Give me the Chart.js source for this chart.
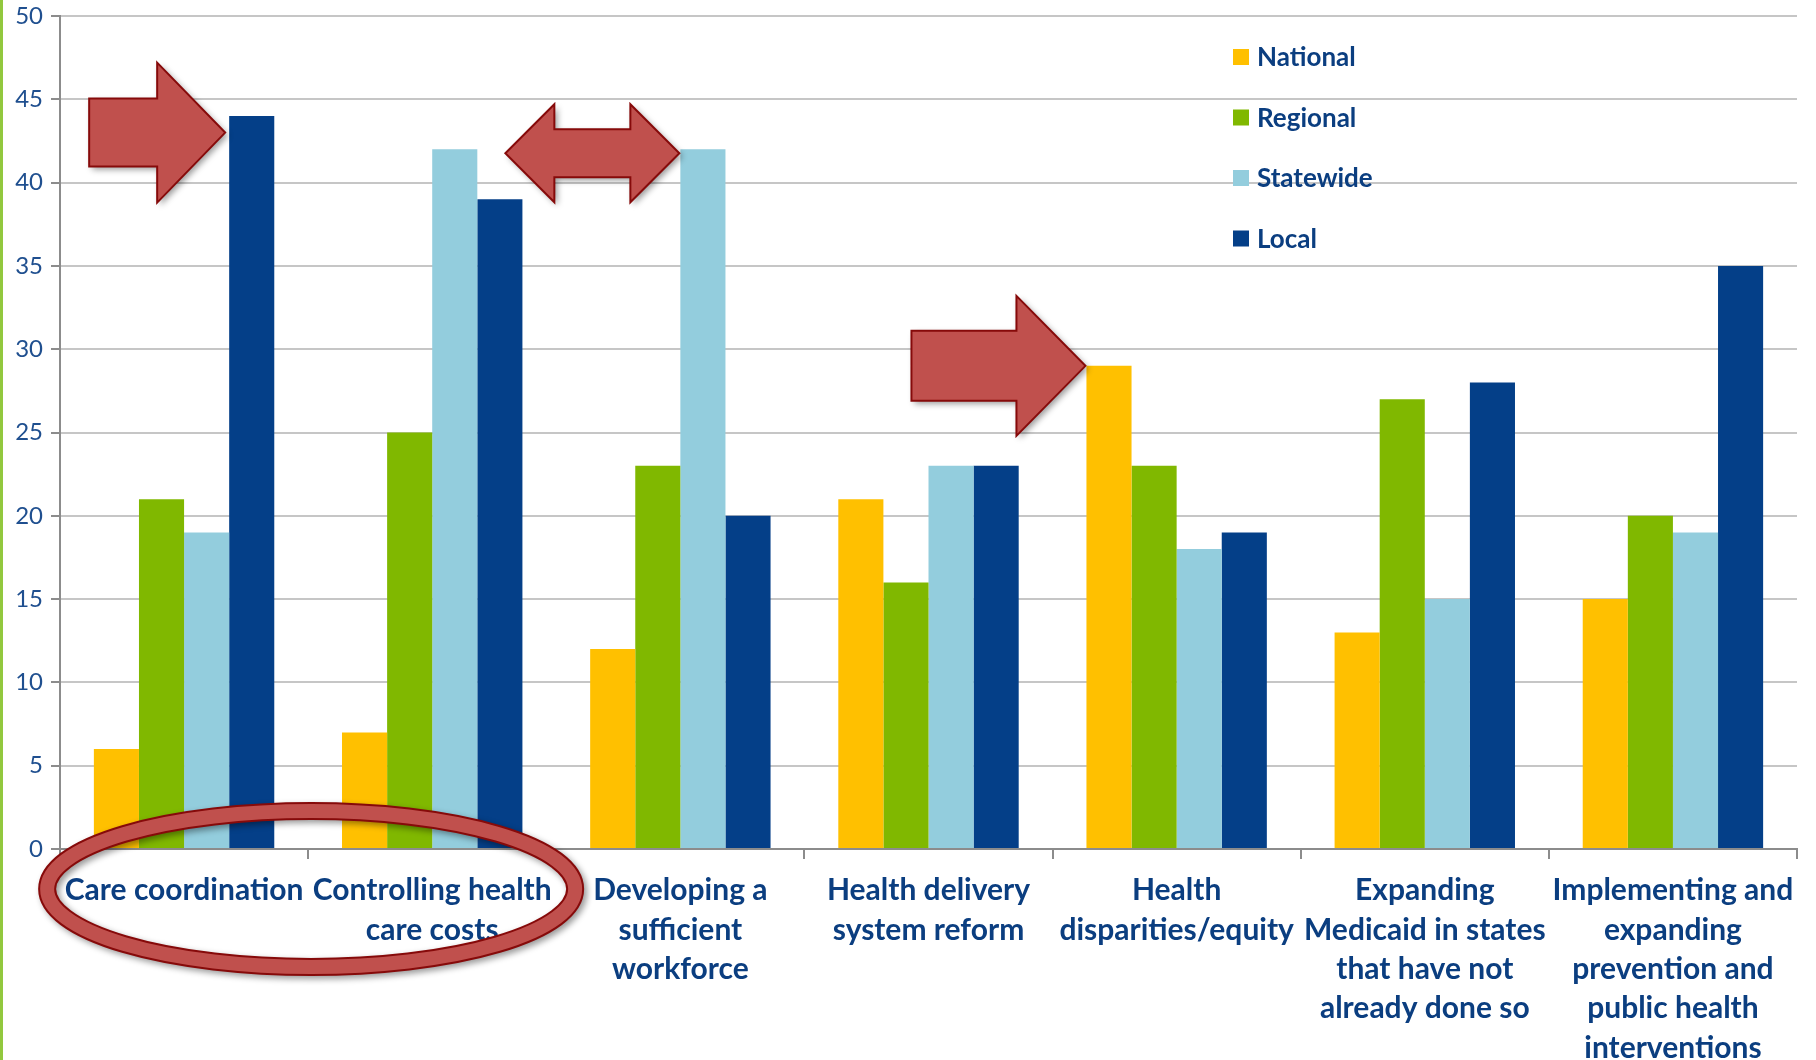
<!DOCTYPE html>
<html>
<head>
<meta charset="utf-8">
<script src="https://cdn.jsdelivr.net/npm/chart.js@4.4.1/dist/chart.umd.min.js"></script>
<style>
  html, body { margin: 0; padding: 0; background: #fff; }
  #wrap { position: relative; width: 1816px; height: 1060px; overflow: hidden; }
  #edge { position: absolute; left: 0; top: 0; width: 3px; height: 1060px; background: #92c83e; }
</style>
</head>
<body>
<div id="wrap">
  <canvas id="chart" width="1816" height="1060"></canvas>
  <div id="edge"></div>
</div>
<script>
// Survey: priority issues by organisation scope
const categories = [
  ["Care coordination"],
  ["Controlling health", "care costs"],
  ["Developing a", "sufficient", "workforce"],
  ["Health delivery", "system reform"],
  ["Health", "disparities/equity"],
  ["Expanding", "Medicaid in states", "that have not", "already done so"],
  ["Implementing and", "expanding", "prevention and", "public health", "interventions"]
];
const seriesNames = ["National", "Regional", "Statewide", "Local"];
const national  = [6, 7, 12, 21, 29, 13, 15];
const regional  = [21, 25, 23, 16, 23, 27, 20];
const statewide = [19, 42, 42, 23, 18, 15, 19];
const local     = [44, 39, 20, 23, 19, 28, 35];
const yTicks = [0, 5, 10, 15, 20, 25, 30, 35, 40, 45, 50];

const colors = ["#ffc000", "#80b800", "#93cddd", "#043f88"];
const textBlue = "#0b3e80";

Chart.defaults.font.family = "Lato, 'Open Sans', sans-serif";

// legend drawn inside the plot, top right
const insideLegend = {
  id: "insideLegend",
  afterDraw(chart) {
    const ctx = chart.ctx;
    ctx.save();
    ctx.font = "bold 26px Lato";
    ctx.textBaseline = "middle";
    chart.data.datasets.forEach((ds, i) => {
      const y = 57 + i * 60.5;
      ctx.fillStyle = ds.backgroundColor;
      ctx.fillRect(1233, y - 8, 16, 16);
      ctx.fillStyle = textBlue;
      ctx.fillText(ds.label, 1257, y + 1);
    });
    ctx.restore();
  }
};

function shape(ctx, pts) {
  ctx.save();
  ctx.shadowColor = "rgba(0,0,0,0.4)";
  ctx.shadowBlur = 6;
  ctx.shadowOffsetX = 3;
  ctx.shadowOffsetY = 3;
  ctx.beginPath();
  pts.forEach((p, i) => i ? ctx.lineTo(p[0], p[1]) : ctx.moveTo(p[0], p[1]));
  ctx.closePath();
  ctx.fillStyle = "#c0504d";
  ctx.fill();
  ctx.shadowColor = "transparent";
  ctx.lineWidth = 2;
  ctx.strokeStyle = "#860a0a";
  ctx.lineJoin = "miter";
  ctx.stroke();
  ctx.restore();
}

function rightArrow(ctx, tx, ty, len, head, hh, sh) {
  shape(ctx, [
    [tx - len, ty - sh], [tx - head, ty - sh], [tx - head, ty - hh], [tx, ty],
    [tx - head, ty + hh], [tx - head, ty + sh], [tx - len, ty + sh]
  ]);
}

function doubleArrow(ctx, rx, y, len, head, hh, sh) {
  const lx = rx - len;
  shape(ctx, [
    [lx, y], [lx + head, y - hh], [lx + head, y - sh], [rx - head, y - sh],
    [rx - head, y - hh], [rx, y], [rx - head, y + hh], [rx - head, y + sh],
    [lx + head, y + sh], [lx + head, y + hh]
  ]);
}

// callout arrows and the ring around the first two categories
const callouts = {
  id: "callouts",
  afterDraw(chart) {
    const ctx = chart.ctx;
    const x = chart.scales.x, y = chart.scales.y;
    const barLeft = (ds, i) => {
      const b = chart.getDatasetMeta(ds).data[i];
      return b.x - b.width / 2;
    };

    rightArrow(ctx, barLeft(3, 0) - 4, y.getPixelForValue(local[0] - 1), 136, 68, 70, 34);
    doubleArrow(ctx, barLeft(2, 2) - 1, y.getPixelForValue(statewide[2]) + 4, 174, 49, 49, 24);
    rightArrow(ctx, barLeft(0, 4) - 1, y.getPixelForValue(national[4]), 174, 69, 70, 35);

    const cx = x.getPixelForValue(0.5) + 3;
    const cy = chart.chartArea.bottom + 40;
    ctx.save();
    ctx.shadowColor = "rgba(0,0,0,0.4)";
    ctx.shadowBlur = 6;
    ctx.shadowOffsetX = 3;
    ctx.shadowOffsetY = 3;
    ctx.beginPath();
    ctx.ellipse(cx, cy, 264, 78, 0, 0, Math.PI * 2);
    ctx.lineWidth = 18;
    ctx.strokeStyle = "#860a0a";
    ctx.stroke();
    ctx.shadowColor = "transparent";
    ctx.lineWidth = 14;
    ctx.strokeStyle = "#c0504d";
    ctx.stroke();
    ctx.restore();
  }
};

new Chart(document.getElementById("chart"), {
  type: "bar",
  data: {
    labels: categories,
    datasets: [
      { label: seriesNames[0], data: national,  backgroundColor: colors[0] },
      { label: seriesNames[1], data: regional,  backgroundColor: colors[1] },
      { label: seriesNames[2], data: statewide, backgroundColor: colors[2] },
      { label: seriesNames[3], data: local,     backgroundColor: colors[3] }
    ]
  },
  options: {
    responsive: false,
    animation: false,
    layout: { padding: { top: 16, right: 19, left: 0, bottom: 0 } },
    datasets: { bar: { barPercentage: 1, categoryPercentage: 0.727, borderWidth: 0 } },
    plugins: { legend: { display: false }, tooltip: { enabled: false } },
    scales: {
      x: {
        afterFit(scale) { scale.height = 211; },
        border: { color: "#8c8c8c", width: 2 },
        grid: { drawOnChartArea: false, offset: true, tickLength: 10, color: "#8c8c8c", lineWidth: 2 },
        ticks: {
          autoSkip: false, maxRotation: 0, minRotation: 0, padding: 12,
          color: textBlue, font: { size: 30, weight: "bold", lineHeight: 1.31 }
        }
      },
      y: {
        min: 0, max: 50,
        afterFit(scale) {
          scale.width = 60;
          scale.paddingTop = 0;
          scale.paddingBottom = 0;
        },
        afterBuildTicks(scale) { scale.ticks = yTicks.map(v => ({ value: v })); },
        border: { color: "#8c8c8c", width: 2 },
        grid: { color: "#c6c6c6", lineWidth: 2, tickLength: 9, tickColor: "#8c8c8c" },
        ticks: { padding: 8, color: "#1f4f8f", font: { size: 24 } }
      }
    }
  },
  plugins: [insideLegend, callouts]
});
</script>
</body>
</html>
